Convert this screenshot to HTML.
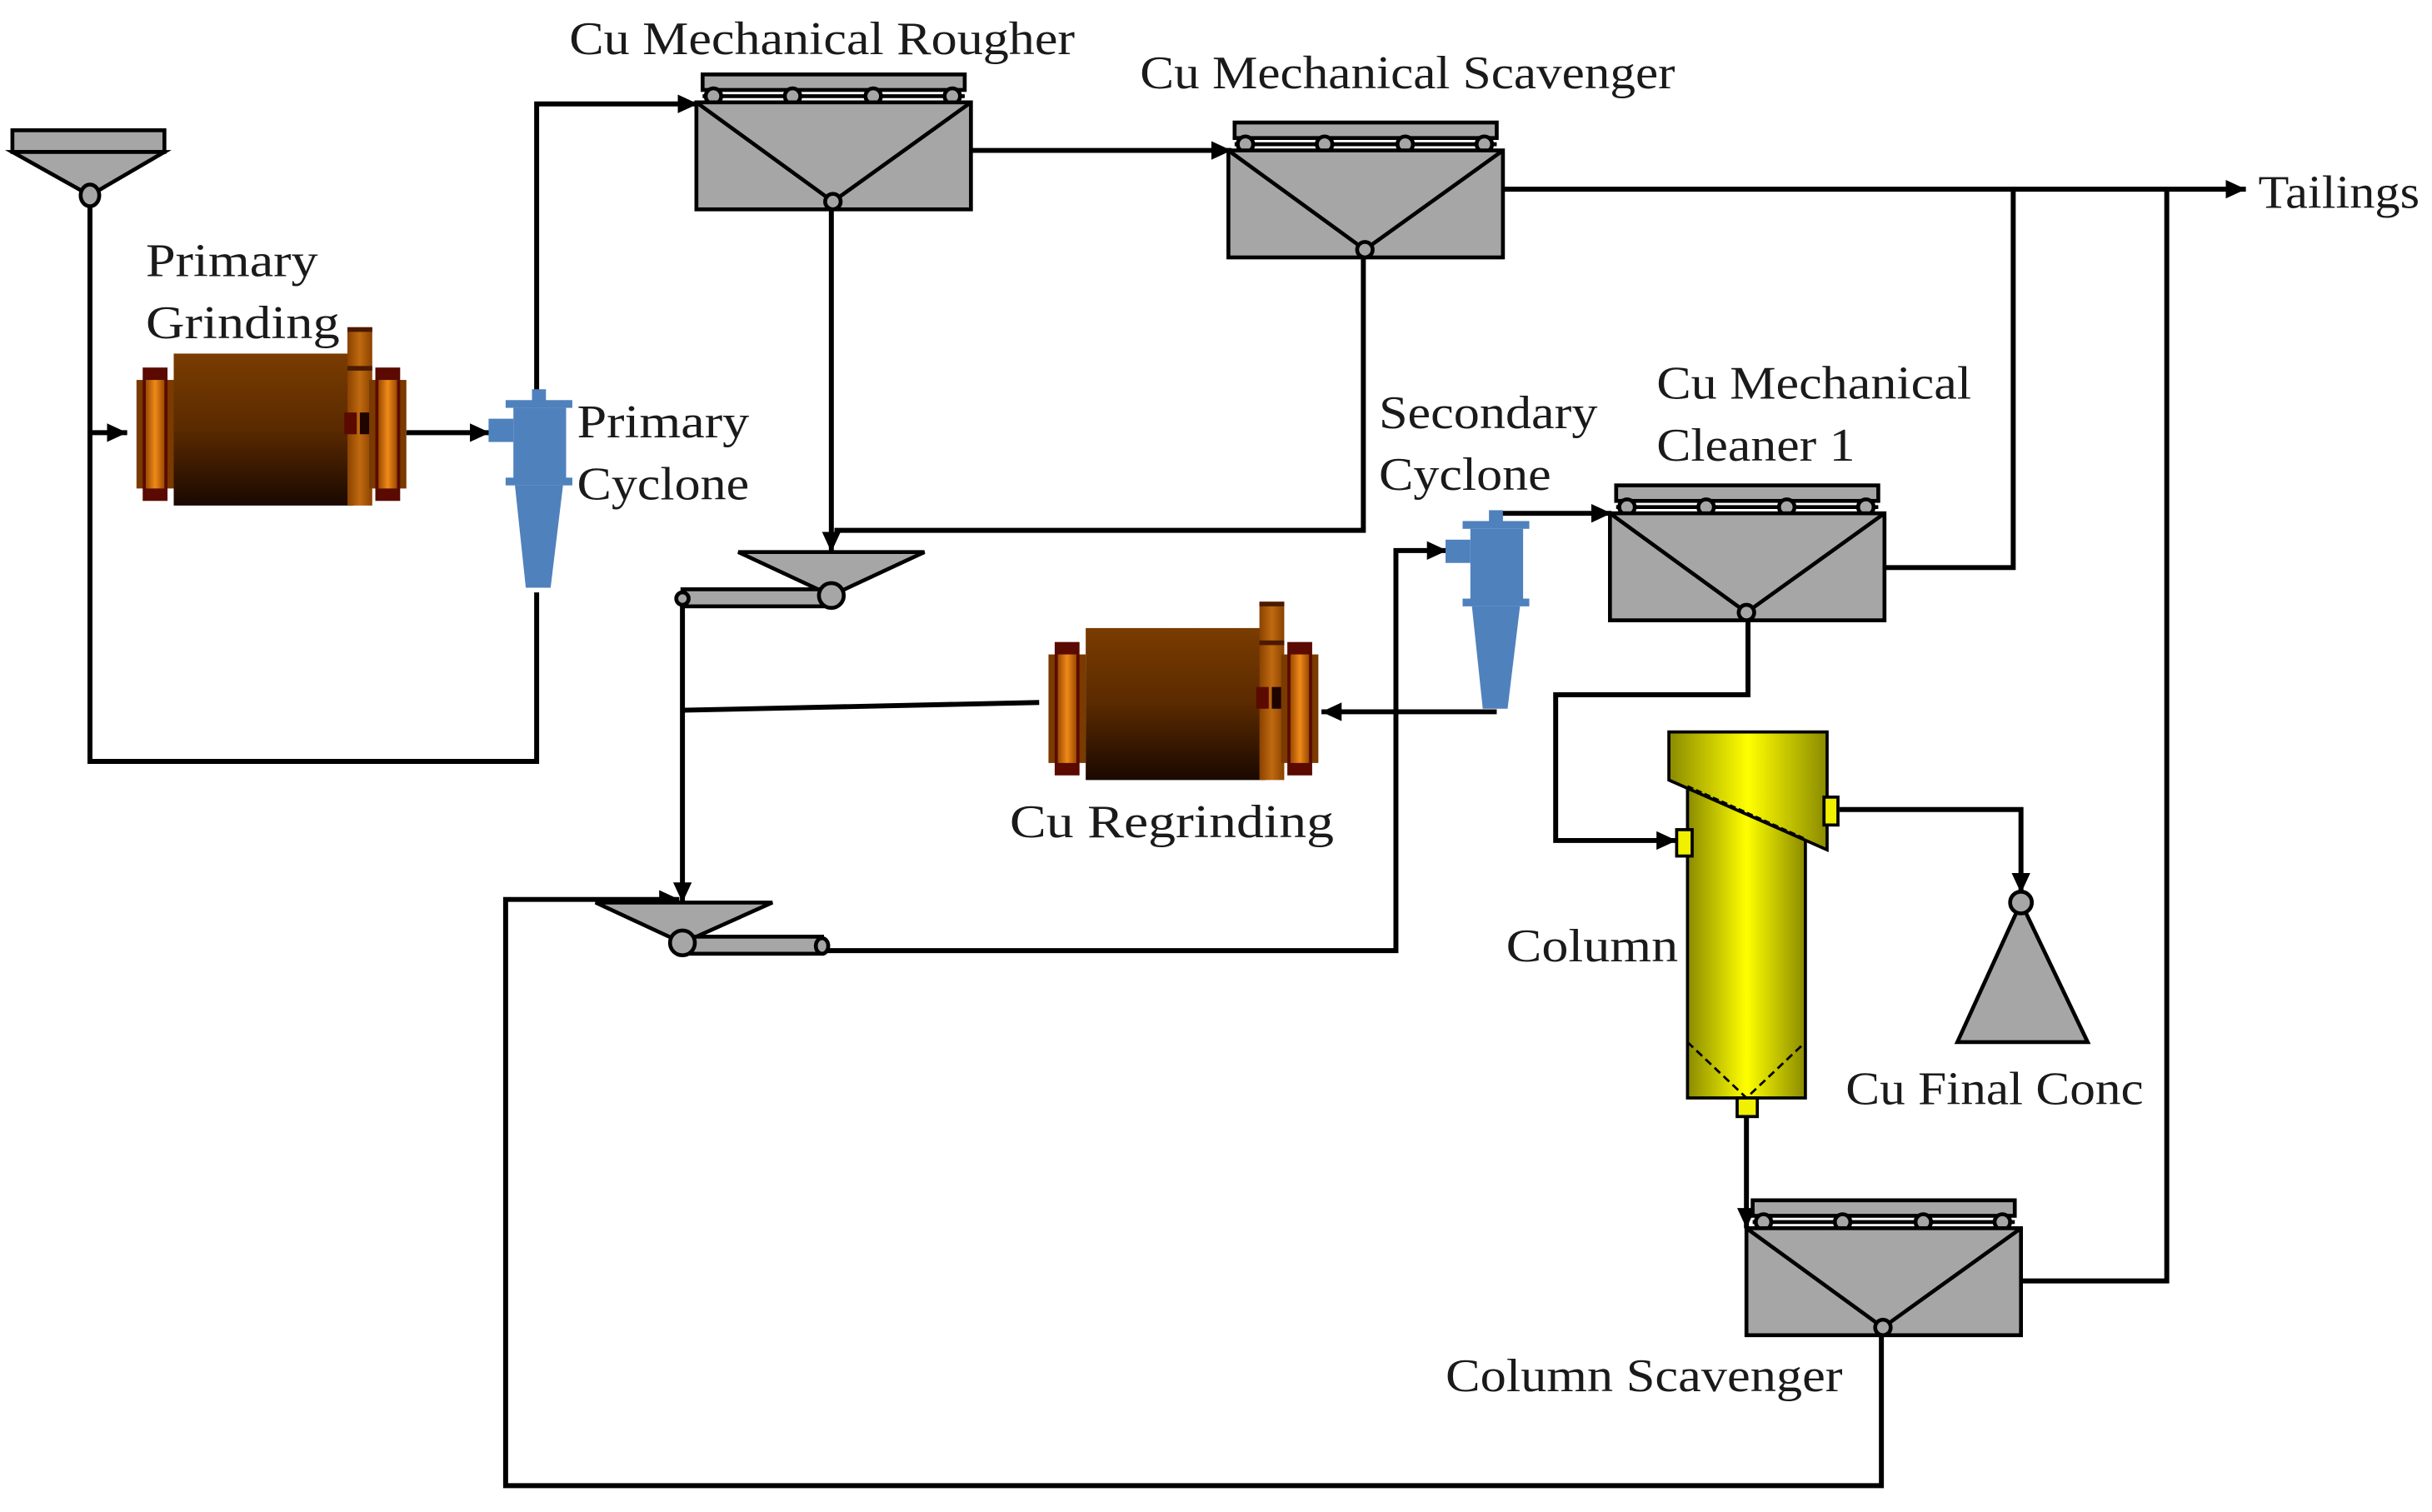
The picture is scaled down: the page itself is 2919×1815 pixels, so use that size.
<!DOCTYPE html>
<html><head><meta charset="utf-8"><style>
html,body{margin:0;padding:0;background:#fff;}
svg{display:block;}
text{font-family:"Liberation Serif",serif;fill:#1a1a1a;font-size:30px;}
</style></head><body>
<svg width="2919" height="1815" viewBox="0 0 1568 975" preserveAspectRatio="none" xmlns="http://www.w3.org/2000/svg">
<defs>
<marker id="ar" markerWidth="14" markerHeight="14" refX="13" refY="6" orient="auto" markerUnits="userSpaceOnUse">
<path d="M0,0 L13,6 L0,12 Z" fill="#000"/></marker>
<linearGradient id="body" x1="0" y1="0" x2="0" y2="1"><stop offset="0" stop-color="#7a3c00"/><stop offset="0.5" stop-color="#5a2a00"/><stop offset="1" stop-color="#1a0800"/></linearGradient>
<linearGradient id="flg" x1="0" y1="0" x2="1" y2="0"><stop offset="0" stop-color="#9a4a00"/><stop offset="0.5" stop-color="#f08a1a"/><stop offset="1" stop-color="#9a4a00"/></linearGradient>
<linearGradient id="pipe" x1="0" y1="0" x2="1" y2="0"><stop offset="0" stop-color="#8a4200"/><stop offset="0.5" stop-color="#c06a10"/><stop offset="1" stop-color="#8a4200"/></linearGradient>
<linearGradient id="yel" x1="0" y1="0" x2="1" y2="0"><stop offset="0" stop-color="#8a8a00"/><stop offset="0.5" stop-color="#ffff00"/><stop offset="1" stop-color="#8a8a00"/></linearGradient>
<g id="mill">
 <rect x="0" y="34" width="24" height="70" fill="#7a3a00"/>
 <rect x="4" y="26" width="16" height="86" fill="#5a0a00"/>
 <rect x="6" y="34" width="12" height="70" fill="url(#flg)"/>
 <rect x="24" y="17" width="116" height="98" fill="url(#body)"/>
 <rect x="136" y="0" width="16" height="115" fill="url(#pipe)"/>
 <rect x="136" y="0" width="16" height="3" fill="#4a1a00"/>
 <rect x="136" y="25" width="16" height="3" fill="#4a1a00"/>
 <rect x="134" y="55" width="8" height="14" fill="#5a0a00"/>
 <rect x="144" y="55" width="7" height="14" fill="#200400"/>
 <rect x="150" y="34" width="24" height="70" fill="#7a3a00"/>
 <rect x="154" y="26" width="16" height="86" fill="#5a0a00"/>
 <rect x="156" y="34" width="12" height="70" fill="url(#flg)"/>
</g>
<g id="cyc" fill="#4f81bd">
 <rect x="13" y="-7" width="9" height="8"/>
 <rect x="-15" y="12" width="16" height="15"/>
 <rect x="-4" y="0" width="43" height="5"/>
 <rect x="1" y="5" width="34" height="46"/>
 <rect x="-4" y="50" width="43" height="5"/>
 <path d="M2,55 L33,55 L25,121 L9,121 Z"/>
</g>
<g id="cell" stroke="#000" stroke-width="2.5" fill="#a6a6a6">
 <rect x="4" y="0" width="169" height="10"/>
 <line x1="4" y1="14" x2="173" y2="14"/>
 <circle cx="11" cy="14" r="5"/><circle cx="62" cy="14" r="5"/><circle cx="114" cy="14" r="5"/><circle cx="165" cy="14" r="5"/>
 <rect x="0" y="18" width="177" height="69"/>
 <path d="M0,18 L88,82 L177,18" fill="none"/>
 <circle cx="88" cy="82" r="5"/>
</g>
</defs>

<g stroke="#000" stroke-width="3.2" fill="none">
 <polyline points="58,126 58,491 346,491 346,382"/>
 <line x1="58" y1="279" x2="82" y2="279" marker-end="url(#ar)"/>
 <line x1="262" y1="279" x2="316" y2="279" marker-end="url(#ar)"/>
 <polyline points="346,254 346,67 450,67" marker-end="url(#ar)"/>
 <line x1="626" y1="97" x2="794" y2="97" marker-end="url(#ar)"/>
 <line x1="967" y1="122" x2="1448" y2="122" marker-end="url(#ar)"/>
 <polyline points="536,136 536,356" marker-end="url(#ar)"/>
 <polyline points="879,166 879,342 538,342"/>
 <polyline points="440,390 440,582" marker-end="url(#ar)"/>
 <line x1="440" y1="458" x2="670" y2="453"/>
 <polyline points="965,459 852,459" marker-end="url(#ar)"/>
 <polyline points="1213,860 1213,958 326,958 326,580 438,580" marker-end="url(#ar)"/>
 <polyline points="530,613 900,613 900,355 933,355" marker-end="url(#ar)"/>
 <polyline points="962,331 1039,331" marker-end="url(#ar)"/>
 <polyline points="1214,366 1298,366 1298,122"/>
 <polyline points="1127,400 1127,448 1003,448 1003,542 1081,542" marker-end="url(#ar)"/>
 <polyline points="1186,522 1303,522 1303,576" marker-end="url(#ar)"/>
 <polyline points="1126,720 1126,792" marker-end="url(#ar)"/>
 <polyline points="1302,826 1397,826 1397,122"/>
</g>

<g stroke="#000" stroke-width="2.5" fill="#a6a6a6">
 <rect x="8" y="84" width="98" height="14"/>
 <path d="M8,98 L106,98 L58,126 Z"/>
 <ellipse cx="58" cy="126" rx="6" ry="7"/>
 <path d="M476,356 L596,356 L536,384 Z"/>
 <rect x="440" y="380" width="96" height="11"/>
 <circle cx="536" cy="384" r="8"/>
 <circle cx="440" cy="386" r="4"/>
 <path d="M384,582 L498,582 L440,608 Z"/>
 <rect x="440" y="604" width="90" height="11"/>
 <circle cx="440" cy="608" r="8"/>
 <ellipse cx="530" cy="610" rx="4" ry="5"/>
 <path d="M1303,582 L1262,672 L1346,672 Z"/>
 <circle cx="1303" cy="582" r="7"/>
</g>

<use href="#mill" x="88" y="211"/>
<use href="#mill" x="676" y="388"/>
<use href="#cyc" x="330" y="258"/>
<use href="#cyc" x="947" y="336"/>

<use href="#cell" x="449" y="48"/>
<use href="#cell" x="792" y="79"/>
<use href="#cell" x="1038" y="313"/>
<use href="#cell" x="1126" y="774"/>

<g stroke="#000" stroke-width="2">
 <rect x="1088" y="500" width="76" height="208" fill="url(#yel)"/>
 <path d="M1076,472 L1178,472 L1178,548 L1076,503 Z" fill="url(#yel)"/>
 <line x1="1088" y1="507" x2="1164" y2="541" stroke-dasharray="4,2" stroke-width="1.5"/>
 <path d="M1088,672 L1126,708 L1164,672" fill="none" stroke-dasharray="5,3" stroke-width="1.5"/>
 <rect x="1081" y="535" width="10" height="17" fill="#f0f000"/>
 <rect x="1176" y="514" width="9" height="18" fill="#f0f000"/>
 <rect x="1120" y="708" width="13" height="12" fill="#f0f000"/>
</g>

<text x="367" y="35" textLength="326" lengthAdjust="spacingAndGlyphs">Cu Mechanical Rougher</text>
<text x="735" y="57" textLength="345" lengthAdjust="spacingAndGlyphs">Cu Mechanical Scavenger</text>
<text x="1456" y="134" textLength="104" lengthAdjust="spacingAndGlyphs">Tailings</text>
<text x="94" y="178" textLength="111" lengthAdjust="spacingAndGlyphs">Primary</text>
<text x="94" y="218" textLength="125" lengthAdjust="spacingAndGlyphs">Grinding</text>
<text x="372" y="282" textLength="111" lengthAdjust="spacingAndGlyphs">Primary</text>
<text x="372" y="322" textLength="111" lengthAdjust="spacingAndGlyphs">Cyclone</text>
<text x="889" y="276" textLength="141" lengthAdjust="spacingAndGlyphs">Secondary</text>
<text x="889" y="316" textLength="111" lengthAdjust="spacingAndGlyphs">Cyclone</text>
<text x="1068" y="257" textLength="203" lengthAdjust="spacingAndGlyphs">Cu Mechanical</text>
<text x="1068" y="297" textLength="128" lengthAdjust="spacingAndGlyphs">Cleaner 1</text>
<text x="651" y="540" textLength="209" lengthAdjust="spacingAndGlyphs">Cu  Regrinding</text>
<text x="971" y="620" textLength="111" lengthAdjust="spacingAndGlyphs">Column</text>
<text x="1190" y="712" textLength="192" lengthAdjust="spacingAndGlyphs">Cu Final Conc</text>
<text x="932" y="897" textLength="256" lengthAdjust="spacingAndGlyphs">Column Scavenger</text>
</svg>
</body></html>
